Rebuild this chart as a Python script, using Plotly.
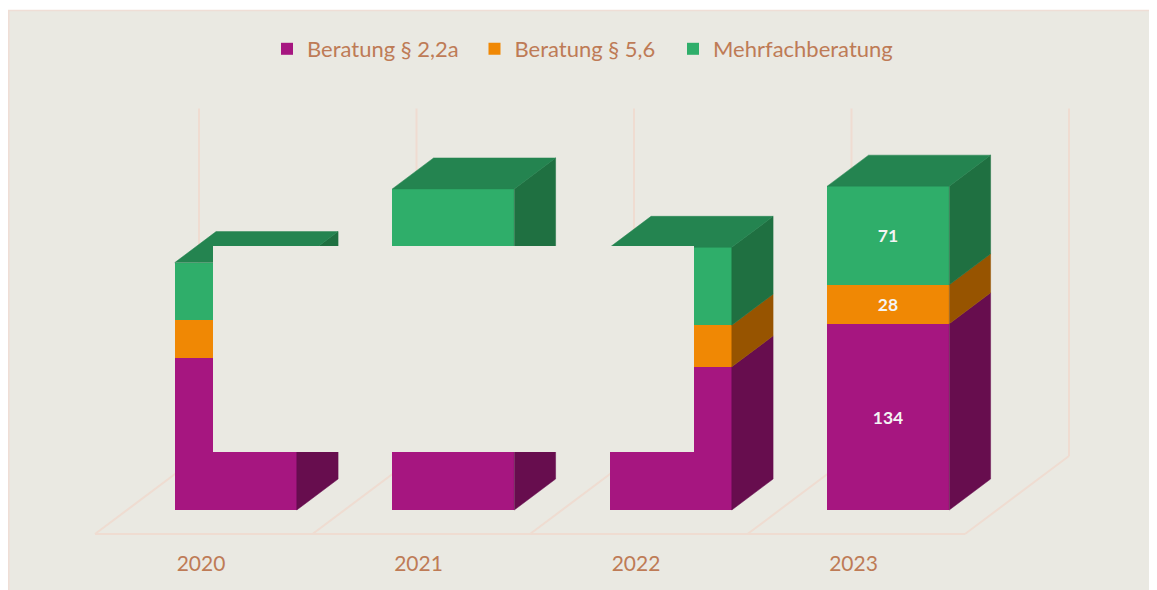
import plotly.graph_objects as go

# ---------------- data ----------------
years = ["2020", "2021", "2022", "2023"]
beratung_22a = [109, 105, 103, 134]
beratung_56 = [28, 30, 30, 28]
mehrfach = [41, 96, 56, 71]
series_names = ["Beratung § 2,2a", "Beratung § 5,6", "Mehrfachberatung"]

# ---------------- styling / geometry (reference pixel space) ----------------
W, H = 1157, 590
OFF = 8                       # page body margin of the browser
B = 549                       # plot-area bottom (reference pixels)
PX_X, X0PX = 217.5, 203.75    # px per category, pixel of category 0 (floor front)
PX_Y, Y0PX = 1.39, 510.0      # px per value unit, pixel of value 0 (bar base)
AXIS_MAX = 250
TICK_SHIFT = -2.75 / PX_X     # year labels sit slightly left of the cell centre

DXU = 104 / PX_X              # full floor depth, x direction (category units)
DYU = 78 / PX_Y               # full floor depth, y direction (value units)
F0, F1 = 0.308, 0.705         # bar depth span (fraction of floor depth)
BW = 0.561                    # bar width (category units)
YFLOOR = -F0 * DYU            # floor front edge in value units

BG = "#EAE9E2"
GRID = "#EFDCD1"
TXT = "#BE7B56"
FRONT = ["#A61680", "#F08804", "#2FAE6A"]
SIDE = ["#670D4E", "#975400", "#1F7041"]
TOP = "#248450"
LEGEND_X = [267, 474.5, 673]  # left edge of each legend entry (reference pixels)

series = [beratung_22a, beratung_56, mehrfach]
n = len(years)
xc = [k + F0 * DXU for k in range(n)]
dx = (F1 - F0) * DXU
dy = (F1 - F0) * DYU

fig = go.Figure()

# side faces
cum = [0] * n
for s, vals in enumerate(series):
    sx, sy = [], []
    for k in range(n):
        lo, hi = cum[k], cum[k] + vals[k]
        uR = xc[k] + BW / 2
        sx += [uR, uR, uR + dx, uR + dx, uR, None]
        sy += [lo, hi, hi + dy, lo + dy, lo, None]
        cum[k] = hi
    fig.add_trace(go.Scatter(x=sx, y=sy, mode="lines", fill="toself", fillcolor=SIDE[s],
                             line=dict(color=SIDE[s], width=0.5), hoverinfo="skip",
                             showlegend=False))

# top faces
tx, ty = [], []
for k in range(n):
    T = cum[k]
    uL, uR = xc[k] - BW / 2, xc[k] + BW / 2
    tx += [uL, uR, uR + dx, uL + dx, uL, None]
    ty += [T, T, T + dy, T + dy, T, None]
fig.add_trace(go.Scatter(x=tx, y=ty, mode="lines", fill="toself", fillcolor=TOP,
                         line=dict(color=TOP, width=0.5), hoverinfo="skip", showlegend=False))

# front faces (stacked bars), each series in its own legend box
legend_ids = ["legend", "legend2", "legend3"]
for s, vals in enumerate(series):
    fig.add_trace(go.Bar(
        x=xc, y=vals, width=BW, name=series_names[s], legend=legend_ids[s],
        marker=dict(color=FRONT[s], line=dict(width=0)),
        text=vals, texttemplate="%{text}", textposition="inside",
        insidetextanchor="middle", textangle=0,
        textfont=dict(family="Lato", size=17.5, color="#F4F4F4", weight="bold"),
        hoverinfo="skip"))

# floor and back-wall lines (drawn beneath the traces)
shapes = []
shapes.append(dict(type="line", xref="x", yref="y", x0=-0.5, x1=n - 0.5, y0=YFLOOR, y1=YFLOOR,
                   line=dict(color=GRID, width=2), layer="below"))
for k in range(n + 1):
    u = k - 0.5
    shapes.append(dict(type="line", xref="x", yref="y", x0=u, x1=u + DXU,
                       y0=YFLOOR, y1=YFLOOR + DYU, line=dict(color=GRID, width=2), layer="below"))
    shapes.append(dict(type="line", xref="x", yref="y", x0=u + DXU, x1=u + DXU,
                       y0=YFLOOR + DYU, y1=YFLOOR + DYU + AXIS_MAX,
                       line=dict(color=GRID, width=2), layer="below"))


def px_x(p):
    return (p - OFF) / W


def px_y(p):
    return (B - p) / (B - OFF)


shapes += [
    # redaction box covering part of the chart
    dict(type="rect", xref="paper", yref="paper", x0=px_x(213), x1=px_x(694),
         y0=px_y(452), y1=px_y(246), fillcolor=BG, line=dict(width=0), layer="above"),
    # white strip above the frame
    dict(type="rect", xref="paper", yref="paper", x0=-0.01, x1=1.01,
         y0=px_y(10), y1=px_y(0), fillcolor="white", line=dict(width=0), layer="above"),
    # frame border
    dict(type="line", xref="paper", yref="paper", x0=px_x(8), x1=1.01,
         y0=px_y(10.5), y1=px_y(10.5), line=dict(color="#EFDED6", width=1.5), layer="above"),
    dict(type="line", xref="paper", yref="paper", x0=px_x(8.75), x1=px_x(8.75),
         y0=px_y(600), y1=px_y(10), line=dict(color="#EFDED6", width=1.5), layer="above"),
]

legend_common = dict(orientation="h", xanchor="left", y=px_y(49), yanchor="middle",
                     font=dict(family="Lato", size=22, color=TXT),
                     bgcolor="rgba(0,0,0,0)", borderwidth=0, itemwidth=30)

fig.update_layout(
    width=W, height=H, autosize=False,
    margin=dict(l=0, r=0, t=0, b=H - (B - OFF), pad=0),
    paper_bgcolor=BG, plot_bgcolor=BG,
    barmode="stack", bargap=0,
    showlegend=True,
    legend=dict(x=px_x(LEGEND_X[0]), **legend_common),
    legend2=dict(x=px_x(LEGEND_X[1]), **legend_common),
    legend3=dict(x=px_x(LEGEND_X[2]), **legend_common),
    xaxis=dict(range=[(OFF - X0PX) / PX_X, (OFF + W - X0PX) / PX_X],
               tickvals=[k + TICK_SHIFT for k in range(n)],
               ticktext=years, showgrid=False, zeroline=False, showline=False, ticks="",
               tickfont=dict(family="Lato", size=21, color=TXT), fixedrange=True),
    yaxis=dict(range=[-(B - Y0PX) / PX_Y, (Y0PX - OFF) / PX_Y], showgrid=False, zeroline=False,
               showline=False, showticklabels=False, ticks="", fixedrange=True),
    shapes=shapes,
)

fig.write_html("out.html")
